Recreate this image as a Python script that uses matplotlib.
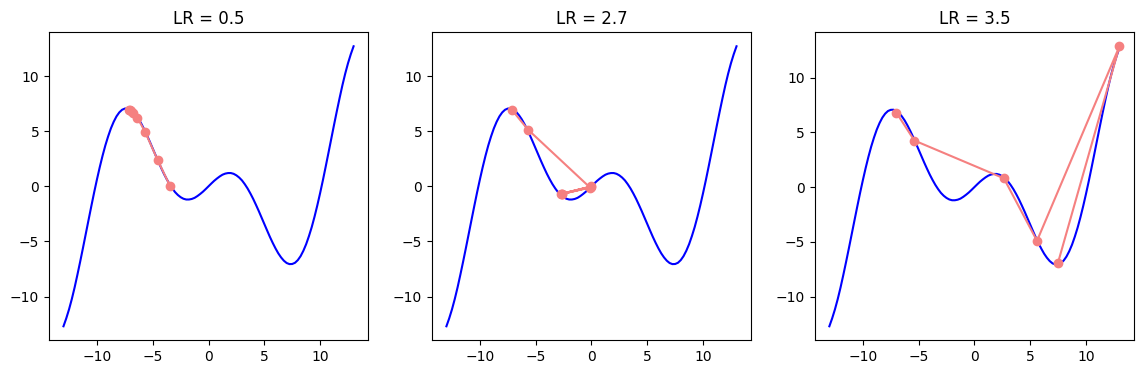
import matplotlib
matplotlib.use("Agg")
import matplotlib.pyplot as plt

# Curve values (x step 0.25, from -13 to 13)
curve_x = [-13.0, -12.75, -12.5, -12.25, -12.0, -11.75, -11.5, -11.25, -11.0, -10.75,
           -10.5, -10.25, -10.0, -9.75, -9.5, -9.25, -9.0, -8.75, -8.5, -8.25,
           -8.0, -7.75, -7.5, -7.25, -7.0, -6.75, -6.5, -6.25, -6.0, -5.75,
           -5.5, -5.25, -5.0, -4.75, -4.5, -4.25, -4.0, -3.75, -3.5, -3.25,
           -3.0, -2.75, -2.5, -2.25, -2.0, -1.75, -1.5, -1.25, -1.0, -0.75,
           -0.5, -0.25, 0.0, 0.25, 0.5, 0.75, 1.0, 1.25, 1.5, 1.75,
           2.0, 2.25, 2.5, 2.75, 3.0, 3.25, 3.5, 3.75, 4.0, 4.25,
           4.5, 4.75, 5.0, 5.25, 5.5, 5.75, 6.0, 6.25, 6.5, 6.75,
           7.0, 7.25, 7.5, 7.75, 8.0, 8.25, 8.5, 8.75, 9.0, 9.25,
           9.5, 9.75, 10.0, 10.25, 10.5, 10.75, 11.0, 11.25, 11.5, 11.75,
           12.0, 12.25, 12.5, 12.75, 13.0]
curve_y = [-12.7, -11.98, -11.16, -10.22, -9.17, -8.02, -6.82, -5.58, -4.31, -3.04,
           -1.78, -0.55, 0.62, 1.73, 2.76, 3.70, 4.52, 5.25, 5.85, 6.34,
           6.70, 6.94, 7.05, 7.06, 6.96, 6.75, 6.45, 6.08, 5.63, 5.13,
           4.59, 4.01, 3.42, 2.83, 2.24, 1.68, 1.14, 0.65, 0.20, -0.19,
           -0.53, -0.79, -0.99, -1.13, -1.20, -1.20, -1.15, -1.05, -0.89, -0.70,
           -0.49, -0.25, 0.0, 0.25, 0.49, 0.70, 0.89, 1.05, 1.15, 1.20,
           1.20, 1.13, 0.99, 0.79, 0.53, 0.19, -0.20, -0.65, -1.14, -1.68,
           -2.24, -2.83, -3.42, -4.01, -4.59, -5.13, -5.63, -6.08, -6.45, -6.75,
           -6.96, -7.06, -7.05, -6.94, -6.70, -6.34, -5.85, -5.25, -4.52, -3.70,
           -2.76, -1.73, -0.62, 0.55, 1.78, 3.04, 4.31, 5.58, 6.82, 8.02,
           9.17, 10.22, 11.16, 11.98, 12.7]

# Learning rates and visited points
lrs = ["0.5", "2.7", "3.5"]
path_x_lr05 = [-3.46, -4.57, -5.68, -6.37, -6.75, -6.95, -7.05, -7.1]
path_y_lr05 = [0.05, 2.40, 4.93, 6.21, 6.67, 6.85, 6.90, 6.93]
path_x_lr27 = [-2.6, -0.02, -2.68, -0.06, -2.76, -0.12, -5.69, -7.09]
path_y_lr27 = [-0.66, -0.02, -0.69, -0.06, -0.72, -0.12, 5.14, 6.88]
path_x_lr35 = [7.48, 13.0, 5.61, 2.64, -5.38, -7.0]
path_y_lr35 = [-6.94, 12.85, -4.9, 0.8, 4.25, 6.8]

paths = [(path_x_lr05, path_y_lr05), (path_x_lr27, path_y_lr27), (path_x_lr35, path_y_lr35)]

fig, axes = plt.subplots(1, 3, figsize=(14, 4), dpi=100)
for ax, lr, (px, py) in zip(axes, lrs, paths):
    ax.plot(curve_x, curve_y, color="blue", linewidth=1.5)
    ax.plot(px, py, color="#F58080", marker="o", markersize=6, linewidth=1.5)
    ax.set_title(f"LR = {lr}")

fig.savefig("out.png", dpi=100, bbox_inches="tight")
